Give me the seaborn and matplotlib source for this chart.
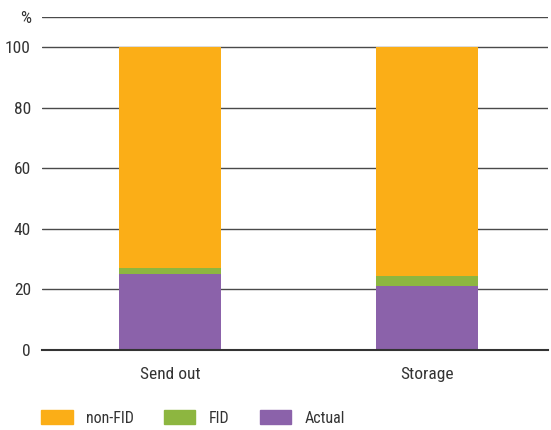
import matplotlib
matplotlib.use("Agg")
import matplotlib.pyplot as plt
import matplotlib.patches as mpatches
from matplotlib import font_manager
import seaborn as sns
import pandas as pd

categories = ["Send out", "Storage"]
actual = [25.0, 21.2]
fid = [2.2, 3.2]
non_fid = [72.8, 75.6]

series_names = ["non-FID", "FID", "Actual"]
colors = {"non-FID": "#FBAE17", "FID": "#8DB640", "Actual": "#8B62AA"}

sns.set_style("white")
# pick a narrow font, close to the DIN-like face of the original
have = set(f.name for f in font_manager.fontManager.ttflist)
prefs = ["Roboto Condensed", "Barlow Semi Condensed", "PT Sans Narrow",
         "Archivo Narrow", "Fira Sans Condensed", "Liberation Sans Narrow"]
narrow = [p for p in prefs if p in have][:1]
plt.rcParams["font.family"] = narrow + ["DejaVu Sans"]

df = pd.DataFrame({"cat": categories, "Actual": actual, "FID": fid, "non-FID": non_fid})
df["top_fid"] = df["Actual"] + df["FID"]
df["top_all"] = df["top_fid"] + df["non-FID"]

fig = plt.figure(figsize=(5.51, 4.30), dpi=100)
ax = fig.add_axes([0.0762, 0.186, 0.9184, 0.775])

ax.set_ylim(0, 110)
yt = [0, 20, 40, 60, 80, 100, 110]
for v in yt[1:]:
    ax.axhline(v, color="#4a4a4a", lw=1.0, zorder=0)

for col, name in [("top_all", "non-FID"), ("top_fid", "FID"), ("Actual", "Actual")]:
    sns.barplot(data=df, x="cat", y=col, color=colors[name], width=0.4,
                saturation=1, linewidth=0, ax=ax, zorder=2)

ax.set_xlim(-0.498, 1.471)
ax.set_yticks(yt)
ax.set_yticklabels(["0", "20", "40", "60", "80", "100", "%"])
ax.set_xlabel("")
ax.set_ylabel("")
for s in ["top", "right", "left"]:
    ax.spines[s].set_visible(False)
ax.spines["bottom"].set_color("#333333")
ax.spines["bottom"].set_linewidth(1.5)
ax.spines["bottom"].set_zorder(5)

ax.tick_params(axis="y", length=0, pad=8, labelsize=12.5, labelcolor="#333333")
ax.tick_params(axis="x", length=0, pad=12, labelsize=12.5, labelcolor="#333333")
ax.set_xticks([0.5], minor=True)
ax.tick_params(axis="x", which="minor", length=6, width=1.3, color="#777777")

handles = [mpatches.Patch(color=colors[n], label=n) for n in series_names]
fig.legend(handles=handles, loc="center left", bbox_to_anchor=(0.049, 0.028), ncol=3,
           frameon=False, fontsize=11.5, handlelength=1.95, handleheight=0.9,
           handletextpad=0.85, columnspacing=1.9, labelcolor="#333333")

fig.savefig("out.png", dpi=100)
